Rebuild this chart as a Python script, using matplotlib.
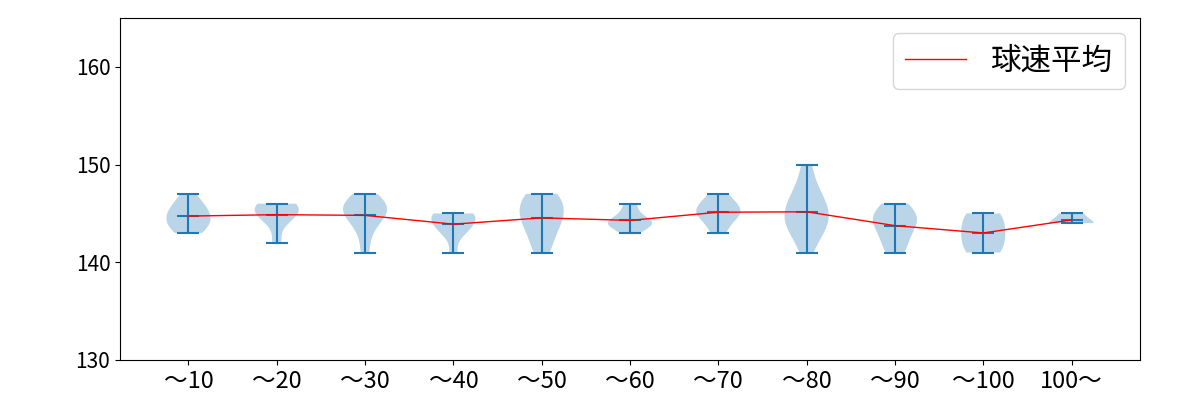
import matplotlib
matplotlib.use("Agg")
import matplotlib.pyplot as plt

plt.rcParams['font.family'] = ['Noto Sans CJK JP', 'DejaVu Sans']

labels = ['～10', '～20', '～30', '～40', '～50', '～60', '～70', '～80', '～90', '～100', '100～']

# 球速サンプル (km/h)
g1 = [143, 144, 144, 145, 145, 145, 146, 146, 147, 144, 143]
g2 = [142, 144, 145, 145, 145, 146, 146, 146]
g3 = [141, 143, 144, 145, 145, 145, 146, 146, 146, 147]
g4 = [141, 143, 143, 144, 144, 144, 145, 145, 145, 145]
g5 = [141, 142, 143, 144, 145, 146, 147, 147, 146, 145, 144]
g6 = [143, 144, 144, 144, 144, 145, 146]
g7 = [143, 144, 145, 145, 145, 146, 146, 147]
g8 = [141, 143, 143, 144, 144, 145, 145, 146, 146, 147, 148, 150]
g9 = [141, 142, 143, 144, 144, 145, 145, 146]
g10 = [141, 141, 142, 143, 143, 144, 145, 145]
g11 = [144, 144, 145]
groups = [g1, g2, g3, g4, g5, g6, g7, g8, g9, g10, g11]

means = [sum(g) / len(g) for g in groups]
pos = list(range(1, len(groups) + 1))

fig, ax = plt.subplots(figsize=(12, 4), dpi=100)
ax.violinplot(groups, positions=pos, showmeans=True)
ax.plot(pos, means, color='red', lw=1, label='球速平均')
ax.set_xticks(pos)
ax.set_xticklabels(labels, fontsize=17)
ax.tick_params(axis='y', labelsize=15)
ax.set_ylim(130, 165)
ax.set_yticks([130, 140, 150, 160])
ax.legend(loc='upper right', fontsize=22)
fig.subplots_adjust(left=0.1, right=0.95, top=0.955, bottom=0.1)
fig.savefig('out.png')
